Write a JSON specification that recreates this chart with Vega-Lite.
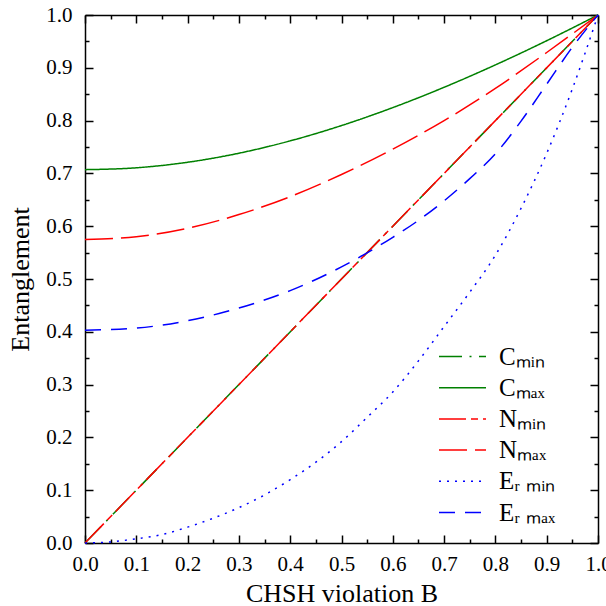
{
  "$schema": "https://vega.github.io/schema/vega-lite/v6.json",
  "width": 513,
  "height": 528,
  "autosize": "none",
  "padding": {"left": 85, "top": 15, "right": 8, "bottom": 63},
  "background": "white",
  "config": {"view": {"stroke": null}, "font": "'Liberation Serif', 'Times New Roman', serif"},
  "data": {
    "values": [
      {"series": "Cmin", "B": 0, "E": 0},
      {"series": "Cmin", "B": 1, "E": 1},
      {"series": "Cmax", "B": 0, "E": 0.7071},
      {"series": "Cmax", "B": 0.1, "E": 0.7106},
      {"series": "Cmax", "B": 0.2, "E": 0.7211},
      {"series": "Cmax", "B": 0.3, "E": 0.7382},
      {"series": "Cmax", "B": 0.4, "E": 0.7616},
      {"series": "Cmax", "B": 0.5, "E": 0.7906},
      {"series": "Cmax", "B": 0.6, "E": 0.8246},
      {"series": "Cmax", "B": 0.7, "E": 0.8631},
      {"series": "Cmax", "B": 0.8, "E": 0.9055},
      {"series": "Cmax", "B": 0.9, "E": 0.9513},
      {"series": "Cmax", "B": 1, "E": 1},
      {"series": "Nmin", "B": 0, "E": 0},
      {"series": "Nmin", "B": 1, "E": 1},
      {"series": "Nmax", "B": 0, "E": 0.575},
      {"series": "Nmax", "B": 0.1, "E": 0.58},
      {"series": "Nmax", "B": 0.2, "E": 0.596},
      {"series": "Nmax", "B": 0.3, "E": 0.622},
      {"series": "Nmax", "B": 0.4, "E": 0.656},
      {"series": "Nmax", "B": 0.5, "E": 0.698},
      {"series": "Nmax", "B": 0.6, "E": 0.746},
      {"series": "Nmax", "B": 0.7, "E": 0.8},
      {"series": "Nmax", "B": 0.8, "E": 0.861},
      {"series": "Nmax", "B": 0.9, "E": 0.929},
      {"series": "Nmax", "B": 1, "E": 1},
      {"series": "ERmin", "B": 0, "E": 0},
      {"series": "ERmin", "B": 0.05, "E": 0.002},
      {"series": "ERmin", "B": 0.1, "E": 0.008},
      {"series": "ERmin", "B": 0.15, "E": 0.016},
      {"series": "ERmin", "B": 0.2, "E": 0.03},
      {"series": "ERmin", "B": 0.25, "E": 0.047},
      {"series": "ERmin", "B": 0.3, "E": 0.067},
      {"series": "ERmin", "B": 0.35, "E": 0.091},
      {"series": "ERmin", "B": 0.4, "E": 0.12},
      {"series": "ERmin", "B": 0.45, "E": 0.153},
      {"series": "ERmin", "B": 0.5, "E": 0.192},
      {"series": "ERmin", "B": 0.55, "E": 0.238},
      {"series": "ERmin", "B": 0.6, "E": 0.286},
      {"series": "ERmin", "B": 0.65, "E": 0.345},
      {"series": "ERmin", "B": 0.7, "E": 0.41},
      {"series": "ERmin", "B": 0.75, "E": 0.475},
      {"series": "ERmin", "B": 0.8, "E": 0.545},
      {"series": "ERmin", "B": 0.85, "E": 0.634},
      {"series": "ERmin", "B": 0.9, "E": 0.738},
      {"series": "ERmin", "B": 0.95, "E": 0.86},
      {"series": "ERmin", "B": 1, "E": 1},
      {"series": "ERmax", "B": 0, "E": 0.403},
      {"series": "ERmax", "B": 0.1, "E": 0.407},
      {"series": "ERmax", "B": 0.2, "E": 0.421},
      {"series": "ERmax", "B": 0.3, "E": 0.445},
      {"series": "ERmax", "B": 0.4, "E": 0.478},
      {"series": "ERmax", "B": 0.5, "E": 0.523},
      {"series": "ERmax", "B": 0.6, "E": 0.579},
      {"series": "ERmax", "B": 0.65, "E": 0.611},
      {"series": "ERmax", "B": 0.7, "E": 0.648},
      {"series": "ERmax", "B": 0.75, "E": 0.69},
      {"series": "ERmax", "B": 0.8, "E": 0.737},
      {"series": "ERmax", "B": 0.85, "E": 0.799},
      {"series": "ERmax", "B": 0.9, "E": 0.869},
      {"series": "ERmax", "B": 0.95, "E": 0.939},
      {"series": "ERmax", "B": 1, "E": 1}
    ]
  },
  "layer": [
    {
      "mark": {"type": "line", "strokeWidth": 1.5, "interpolate": "monotone"},
      "encoding": {
        "x": {
          "field": "B", "type": "quantitative",
          "scale": {"domain": [0, 1], "nice": false},
          "axis": {
            "orient": "bottom",
            "values": [0,0.05,0.1,0.15,0.2,0.25,0.3,0.35,0.4,0.45,0.5,0.55,0.6,0.65,0.7,0.75,0.8,0.85,0.9,0.95,1],
            "labelExpr": "abs(datum.value*10 - round(datum.value*10)) < 0.01 ? format(datum.value, '.1f') : ''",
            "tickSize": {"condition": {"test": "abs(datum.value*10 - round(datum.value*10)) < 0.01", "value": -8}, "value": -4},
            "tickColor": "black", "tickWidth": 1.5,
            "domainColor": "black", "domainWidth": 1.5,
            "labelFont": "'Liberation Serif', 'Times New Roman', serif", "labelFontSize": 21, "labelColor": "black",
            "labelPadding": 18, "labelFlush": false, "labelOverlap": false, "labelBound": false,
            "grid": false,
            "title": "CHSH violation B",
            "titleFont": "'Liberation Serif', 'Times New Roman', serif", "titleFontSize": 26, "titleFontWeight": "normal", "titleColor": "black",
            "titlePadding": 2
          }
        },
        "y": {
          "field": "E", "type": "quantitative",
          "scale": {"domain": [0, 1], "nice": false},
          "axis": {
            "orient": "left",
            "values": [0,0.05,0.1,0.15,0.2,0.25,0.3,0.35,0.4,0.45,0.5,0.55,0.6,0.65,0.7,0.75,0.8,0.85,0.9,0.95,1],
            "labelExpr": "abs(datum.value*10 - round(datum.value*10)) < 0.01 ? format(datum.value, '.1f') : ''",
            "tickSize": {"condition": {"test": "abs(datum.value*10 - round(datum.value*10)) < 0.01", "value": -8}, "value": -4},
            "tickColor": "black", "tickWidth": 1.5,
            "domainColor": "black", "domainWidth": 1.5,
            "labelFont": "'Liberation Serif', 'Times New Roman', serif", "labelFontSize": 21, "labelColor": "black",
            "labelPadding": 21, "labelFlush": false, "labelOverlap": false, "labelBound": false,
            "grid": false,
            "title": "Entanglement",
            "titleFont": "'Liberation Serif', 'Times New Roman', serif", "titleFontSize": 26, "titleFontWeight": "normal", "titleColor": "black",
            "titlePadding": 12
          }
        },
        "color": {
          "field": "series", "type": "nominal",
          "scale": {
            "domain": ["Cmin", "Cmax", "Nmin", "Nmax", "ERmin", "ERmax"],
            "range": ["#008000", "#008000", "#ff0000", "#ff0000", "#0000ff", "#0000ff"]
          },
          "legend": {
            "orient": "none", "legendX": 353, "legendY": 329, "title": null,
            "symbolType": "stroke", "symbolSize": 2209, "symbolStrokeWidth": 1.5,
            "clipHeight": 25,
            "labelFont": "'Liberation Serif', 'Times New Roman', serif", "labelFontSize": 25, "labelColor": "black",
            "labelOffset": 12, "padding": 0, "rowPadding": 5.2,
            "labelExpr": "datum.label == 'Cmin' ? 'Cₘᵢₙ' : datum.label == 'Cmax' ? 'Cₘₐₓ' : datum.label == 'Nmin' ? 'Nₘᵢₙ' : datum.label == 'Nmax' ? 'Nₘₐₓ' : datum.label == 'ERmin' ? 'Eᵣ ₘᵢₙ' : 'Eᵣ ₘₐₓ'"
          }
        },
        "strokeDash": {
          "field": "series", "type": "nominal",
          "scale": {
            "domain": ["Cmin", "Cmax", "Nmin", "Nmax", "ERmin", "ERmax"],
            "range": [[23, 7.5, 2, 7.5], [1, 0], [27, 5, 7, 5], [28, 8], [2, 6], [16, 10]]
          },
          "legend": {
            "orient": "none", "legendX": 353, "legendY": 329, "title": null,
            "symbolType": "stroke", "symbolSize": 2209, "symbolStrokeWidth": 1.5,
            "clipHeight": 25,
            "labelFont": "'Liberation Serif', 'Times New Roman', serif", "labelFontSize": 25, "labelColor": "black",
            "labelOffset": 12, "padding": 0, "rowPadding": 5.2,
            "labelExpr": "datum.label == 'Cmin' ? 'Cₘᵢₙ' : datum.label == 'Cmax' ? 'Cₘₐₓ' : datum.label == 'Nmin' ? 'Nₘᵢₙ' : datum.label == 'Nmax' ? 'Nₘₐₓ' : datum.label == 'ERmin' ? 'Eᵣ ₘᵢₙ' : 'Eᵣ ₘₐₓ'"
          }
        }
      }
    },
    {
      "mark": {"type": "point", "opacity": 0},
      "encoding": {
        "x": {
          "field": "B", "type": "quantitative",
          "scale": {"domain": [0, 1], "nice": false},
          "axis": {
            "orient": "top",
            "values": [0,0.05,0.1,0.15,0.2,0.25,0.3,0.35,0.4,0.45,0.5,0.55,0.6,0.65,0.7,0.75,0.8,0.85,0.9,0.95,1],
            "labels": false,
            "tickSize": {"condition": {"test": "abs(datum.value*10 - round(datum.value*10)) < 0.01", "value": -8}, "value": -4},
            "tickColor": "black", "tickWidth": 1.5,
            "domainColor": "black", "domainWidth": 1.5,
            "grid": false, "title": null
          }
        },
        "y": {
          "field": "E", "type": "quantitative",
          "scale": {"domain": [0, 1], "nice": false},
          "axis": {
            "orient": "right",
            "values": [0,0.05,0.1,0.15,0.2,0.25,0.3,0.35,0.4,0.45,0.5,0.55,0.6,0.65,0.7,0.75,0.8,0.85,0.9,0.95,1],
            "labels": false,
            "tickSize": {"condition": {"test": "abs(datum.value*10 - round(datum.value*10)) < 0.01", "value": -8}, "value": -4},
            "tickColor": "black", "tickWidth": 1.5,
            "domainColor": "black", "domainWidth": 1.5,
            "grid": false, "title": null
          }
        }
      }
    }
  ],
  "resolve": {"axis": {"x": "independent", "y": "independent"}}
}
